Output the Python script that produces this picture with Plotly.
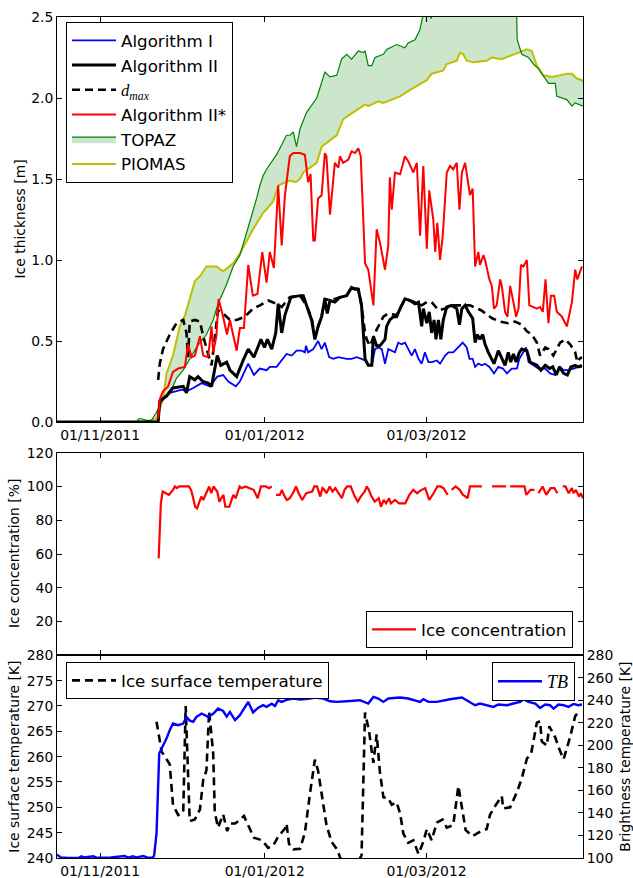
import pandas as pd
import plotly.graph_objects as go

BASE = pd.Timestamp("2011-10-16")
X_START, X_END = "2011-10-16", "2012-04-28"
TICK_DATES = ["2011-11-01", "2012-01-01", "2012-03-01"]
TICK_LABELS = ["01/11/2011", "01/01/2012", "01/03/2012"]

# (day since 2011-10-16, value)
ALG1 = [(0, 0.0), (37.5, 0.0), (38.1, 0.12), (40.6, 0.16), (41.8, 0.18), (44.3, 0.19), (46.2, 0.20), (48.0, 0.19),
        (50.5, 0.21), (53.6, 0.24), (56.7, 0.22), (59.4, 0.28), (61.6, 0.29), (63.5, 0.25), (66.3, 0.22), (67.8, 0.25),
        (70.9, 0.36), (73.0, 0.29), (75.2, 0.33), (77.7, 0.32), (78.9, 0.34), (81.4, 0.34), (83.3, 0.38), (85.1, 0.42),
        (87.0, 0.41), (88.8, 0.44), (90.7, 0.44), (91.9, 0.43), (92.3, 0.47), (93.1, 0.43), (95.0, 0.45), (96.8, 0.50),
        (98.1, 0.45), (99.3, 0.49), (100.9, 0.40), (102.4, 0.39), (104.3, 0.40), (107.4, 0.39), (109.2, 0.39),
        (111.1, 0.40), (112.9, 0.39), (114.2, 0.38), (115.4, 0.35), (116.7, 0.35), (117.9, 0.45), (119.1, 0.46),
        (120.4, 0.45), (121.6, 0.36), (122.8, 0.45), (124.1, 0.44), (125.3, 0.43), (126.5, 0.49), (127.8, 0.48),
        (129.0, 0.49), (130.2, 0.45), (131.5, 0.41), (132.7, 0.45), (134.0, 0.39), (135.2, 0.36), (136.4, 0.43),
        (137.7, 0.37), (139.0, 0.37), (140.8, 0.38), (142.0, 0.36), (143.9, 0.41), (145.1, 0.43), (146.9, 0.43),
        (148.8, 0.46), (150.4, 0.49), (151.9, 0.46), (152.9, 0.39), (154.1, 0.39), (155.0, 0.34), (156.2, 0.36),
        (157.5, 0.35), (158.7, 0.36), (160.3, 0.34), (162.0, 0.30), (163.6, 0.34), (165.3, 0.33), (166.8, 0.30),
        (168.6, 0.33), (170.5, 0.33), (171.4, 0.39), (172.7, 0.43), (173.9, 0.46), (174.8, 0.37), (178.5, 0.33),
        (181.0, 0.33), (182.8, 0.30), (184.7, 0.29), (186.5, 0.34), (187.8, 0.32), (189.6, 0.32), (191.5, 0.33),
        (193.3, 0.34), (194.6, 0.34)]

ALG2 = [(0, 0.0), (37.5, 0.0), (38.1, 0.13), (40.6, 0.16), (43.0, 0.21), (46.8, 0.22), (48.0, 0.18), (49.2, 0.28),
        (51.1, 0.26), (52.3, 0.28), (54.1, 0.25), (56.0, 0.24), (57.3, 0.22), (59.4, 0.41), (60.7, 0.35), (62.9, 0.37),
        (64.1, 0.32), (66.6, 0.28), (69.0, 0.38), (70.9, 0.45), (73.0, 0.40), (75.6, 0.51), (76.9, 0.46), (78.0, 0.51),
        (79.6, 0.45), (81.1, 0.55), (82.0, 0.73), (83.3, 0.55), (84.5, 0.66), (86.7, 0.77), (90.1, 0.78), (91.3, 0.78),
        (92.5, 0.72), (93.1, 0.69), (94.4, 0.63), (95.6, 0.51), (96.8, 0.59), (98.1, 0.65), (99.3, 0.76), (100.2, 0.67),
        (101.2, 0.75), (103.0, 0.74), (104.9, 0.77), (107.4, 0.78), (109.2, 0.83), (110.5, 0.82), (111.7, 0.82),
        (112.9, 0.72), (114.2, 0.39), (115.4, 0.35), (116.7, 0.35), (117.3, 0.53), (118.5, 0.47), (119.7, 0.47),
        (121.6, 0.51), (122.2, 0.59), (123.4, 0.63), (124.7, 0.65), (125.9, 0.65), (127.2, 0.70), (129.0, 0.76),
        (130.9, 0.75), (132.7, 0.73), (134.0, 0.74), (135.2, 0.59), (135.8, 0.70), (137.1, 0.61), (138.0, 0.68),
        (138.9, 0.55), (139.8, 0.63), (140.5, 0.51), (141.4, 0.63), (142.3, 0.51), (143.2, 0.63), (144.5, 0.71),
        (146.3, 0.72), (148.2, 0.70), (149.2, 0.60), (150.1, 0.70), (151.3, 0.72), (152.5, 0.68), (154.1, 0.64),
        (155.0, 0.49), (155.8, 0.54), (156.8, 0.51), (157.8, 0.54), (158.7, 0.48), (159.9, 0.43), (161.2, 0.39),
        (162.0, 0.36), (163.6, 0.44), (164.9, 0.39), (166.1, 0.35), (167.3, 0.43), (168.2, 0.37), (169.2, 0.42),
        (170.2, 0.37), (171.4, 0.43), (172.3, 0.45), (174.2, 0.44), (175.4, 0.37), (177.9, 0.35), (179.4, 0.32),
        (181.0, 0.35), (182.6, 0.33), (183.8, 0.34), (185.1, 0.29), (186.3, 0.34), (187.8, 0.30), (189.2, 0.29),
        (190.5, 0.34), (192.1, 0.35), (193.3, 0.34), (194.6, 0.35)]

DMAX = [(37.5, 0.26), (38.1, 0.36), (39.3, 0.45), (41.8, 0.54), (44.3, 0.61), (46.8, 0.63), (48.0, 0.55), (48.6, 0.40),
        (49.2, 0.62), (51.1, 0.63), (53.0, 0.62), (54.2, 0.53), (56.0, 0.42), (57.3, 0.35), (59.7, 0.69), (61.6, 0.67),
        (64.1, 0.63), (66.6, 0.63), (69.6, 0.65), (72.7, 0.70), (75.2, 0.72), (78.3, 0.75), (81.4, 0.73), (83.3, 0.71),
        (86.3, 0.77), (90.1, 0.78), (92.5, 0.72), (94.4, 0.64), (95.6, 0.53), (96.8, 0.59), (98.1, 0.65), (99.3, 0.76),
        (101.2, 0.75), (104.9, 0.77), (107.4, 0.78), (109.2, 0.83), (111.7, 0.82), (112.9, 0.72), (114.2, 0.55),
        (114.8, 0.51), (116.0, 0.47), (118.5, 0.57), (121.0, 0.65), (122.8, 0.67), (125.9, 0.66), (129.0, 0.76),
        (132.7, 0.74), (135.2, 0.72), (137.1, 0.74), (138.9, 0.74), (141.4, 0.69), (143.9, 0.70), (146.4, 0.72),
        (149.4, 0.72), (153.1, 0.72), (157.2, 0.69), (161.3, 0.64), (164.3, 0.62), (167.3, 0.61), (169.8, 0.62),
        (172.3, 0.60), (174.2, 0.56), (176.0, 0.54), (177.9, 0.49), (179.1, 0.41), (181.0, 0.46), (182.2, 0.45),
        (184.0, 0.41), (186.5, 0.49), (188.4, 0.51), (190.2, 0.48), (192.1, 0.43), (192.9, 0.37), (193.7, 0.39),
        (194.6, 0.40)]

ALG2S = [(37.5, 0.02), (38.1, 0.14), (39.3, 0.19), (41.2, 0.22), (43.0, 0.31), (44.9, 0.33), (47.4, 0.34), (48.6, 0.48),
         (49.9, 0.40), (51.1, 0.41), (53.0, 0.53), (54.2, 0.41), (56.0, 0.40), (57.3, 0.59), (57.9, 0.43), (59.1, 0.53),
         (59.9, 0.76), (61.6, 0.65), (63.0, 0.54), (64.1, 0.63), (66.6, 0.44), (67.8, 0.58), (69.3, 0.58), (70.9, 0.97),
         (72.6, 0.78), (74.3, 0.79), (76.1, 1.05), (77.7, 0.86), (78.9, 1.05), (80.4, 0.95), (82.0, 1.46), (83.3, 1.09),
         (84.5, 1.40), (86.3, 1.64), (87.6, 1.66), (90.1, 1.66), (91.9, 1.65), (93.1, 1.48), (94.0, 1.53), (95.0, 1.12),
         (95.6, 1.12), (96.8, 1.38), (98.1, 1.40), (99.3, 1.66), (99.9, 1.64), (101.2, 1.28), (103.0, 1.60),
         (104.3, 1.57), (104.9, 1.64), (106.1, 1.60), (108.0, 1.62), (109.2, 1.67), (110.5, 1.66), (111.7, 1.69),
         (112.6, 1.64), (114.2, 0.98), (115.4, 0.94), (117.3, 0.72), (118.5, 1.19), (119.7, 1.11), (121.6, 0.94),
         (122.8, 1.09), (123.4, 1.51), (124.1, 1.31), (125.3, 1.54), (127.2, 1.53), (129.0, 1.64), (130.2, 1.61),
         (132.1, 1.54), (133.4, 1.60), (134.6, 1.15), (135.8, 1.58), (137.1, 1.07), (138.0, 1.43), (139.5, 1.25),
         (140.2, 1.05), (141.0, 1.23), (142.0, 1.00), (143.0, 1.15), (144.5, 1.54), (145.7, 1.58), (146.9, 1.56),
         (148.2, 1.60), (149.2, 1.31), (150.1, 1.54), (151.3, 1.60), (153.1, 1.40), (154.1, 1.44), (155.0, 0.96),
         (156.2, 1.05), (156.8, 0.97), (158.1, 1.03), (158.7, 1.00), (160.3, 0.88), (161.2, 0.84), (162.0, 0.70),
         (163.0, 0.72), (164.3, 0.88), (164.9, 0.84), (166.1, 0.68), (167.0, 0.65), (168.0, 0.84), (169.2, 0.74),
         (170.2, 0.65), (171.1, 0.70), (172.0, 0.97), (172.9, 0.96), (174.2, 1.00), (175.1, 0.72), (176.6, 0.71),
         (177.9, 0.70), (179.1, 0.71), (180.1, 0.68), (181.1, 0.88), (182.2, 0.61), (183.1, 0.78), (184.3, 0.78),
         (185.3, 0.68), (187.2, 0.65), (189.0, 0.59), (190.9, 0.74), (192.1, 0.94), (192.9, 0.88), (194.6, 0.96)]

TOPAZ = [(0, 0.0), (29.5, 0.0), (30.3, 0.02), (31.3, 0.02), (33.2, 0.01), (35.0, 0.01), (36.9, 0.06), (39.3, 0.14),
         (43.0, 0.22), (44.3, 0.27), (46.8, 0.32), (51.7, 0.46), (55.4, 0.54), (57.9, 0.63), (59.7, 0.73), (62.9, 0.85),
         (65.3, 0.96), (67.8, 1.03), (70.3, 1.17), (72.1, 1.27), (74.0, 1.38), (75.2, 1.46), (76.4, 1.52), (77.7, 1.56),
         (81.4, 1.65), (85.1, 1.77), (86.4, 1.77), (87.6, 1.79), (88.8, 1.70), (90.1, 1.81), (92.5, 1.91), (96.3, 2.00),
         (99.3, 2.16), (101.2, 2.13), (103.7, 2.14), (105.5, 2.24), (107.4, 2.27), (109.2, 2.24), (111.7, 2.29),
         (113.5, 2.28), (114.2, 2.29), (115.4, 2.20), (116.7, 2.20), (117.9, 2.25), (121.0, 2.27), (122.2, 2.30),
         (125.9, 2.33), (129.0, 2.31), (130.2, 2.34), (132.7, 2.36), (134.5, 2.42), (135.8, 2.52), (137.5, 2.56),
         (138.6, 2.49), (139.5, 2.55), (142.0, 2.62), (150.0, 2.70), (160.0, 2.72), (168.0, 2.65), (170.3, 2.60),
         (170.6, 2.36), (172.3, 2.27), (174.8, 2.25), (176.6, 2.21), (178.5, 2.18), (181.0, 2.12), (182.2, 2.09),
         (184.7, 2.09), (185.3, 2.01), (189.0, 1.99), (190.9, 1.95), (192.1, 1.97), (193.9, 1.96), (195.0, 1.95)]

PIOMAS = [(0, 0.0), (33.3, 0.0), (36.9, 0.02), (39.3, 0.14), (40.6, 0.30), (43.0, 0.41), (45.5, 0.59), (47.5, 0.66),
          (51.1, 0.87), (53.0, 0.90), (55.4, 0.96), (59.1, 0.96), (61.6, 0.93), (65.3, 0.98), (67.8, 1.04), (72.7, 1.19),
          (76.4, 1.29), (80.1, 1.36), (82.0, 1.46), (86.3, 1.49), (88.5, 1.48), (90.1, 1.50), (91.3, 1.54), (96.3, 1.60),
          (98.1, 1.70), (103.7, 1.77), (106.1, 1.87), (114.2, 1.96), (115.4, 1.95), (119.1, 1.98), (121.0, 1.97),
          (127.2, 2.01), (130.9, 2.05), (137.1, 2.11), (138.9, 2.15), (143.2, 2.17), (144.5, 2.21), (148.2, 2.23),
          (149.4, 2.28), (150.6, 2.27), (151.9, 2.23), (154.4, 2.22), (159.3, 2.23), (161.2, 2.25), (164.9, 2.24),
          (169.2, 2.27), (174.2, 2.30), (176.0, 2.29), (177.9, 2.20), (180.3, 2.14), (183.5, 2.13), (189.0, 2.15),
          (190.9, 2.15), (192.7, 2.12), (194.6, 2.11), (195.0, 2.10)]

CONC = [(37.7, 57.5), (38.5, 90), (39.2, 97), (40.7, 96), (41.5, 95), (43.0, 98), (43.7, 100), (44.5, 99), (45.2, 100),
        (48.9, 100), (49.7, 98), (50.5, 93), (51.2, 88), (51.9, 87), (52.7, 91), (53.5, 94), (54.2, 92), (55.0, 95),
        (56.4, 100), (57.2, 96), (58.0, 100), (59.4, 97), (60.2, 91), (60.9, 93), (61.7, 95), (62.4, 88), (63.9, 88),
        (64.7, 92), (65.4, 95), (66.2, 93), (66.9, 97), (67.7, 100), (68.4, 99), (69.9, 100), (71.4, 99), (72.9, 98),
        (74.4, 93), (75.6, 100), (76.7, 100), (77.4, 100), (78.6, 99), (79.6, 100), (80.4, None), (81.2, 95), (82.6, 95),
        (83.4, 98), (84.1, 95), (85.2, 92), (86.3, 93), (87.8, 97), (88.6, 100), (89.6, 96), (90.9, 92), (92.4, 96),
        (93.9, 97), (94.6, 97), (95.4, 100), (96.4, 100), (97.6, 94), (98.4, 99), (99.1, 98), (99.9, 96), (101.1, 100),
        (102.1, 97), (103.2, 99), (104.3, 96), (105.6, 93), (106.6, 98), (107.6, 100), (108.9, 100), (110.4, 94),
        (111.5, 91), (112.6, 94), (114.1, 97), (114.8, 100), (115.6, 98), (116.6, 94), (117.8, 91), (119.3, 93),
        (120.1, 88), (121.1, 92), (122.0, 90), (123.1, 93), (123.8, 90), (125.3, 92), (126.8, 90), (129.1, 90),
        (130.6, 95), (132.1, 98), (133.5, 96), (135.1, 98), (136.5, 99), (138.0, 92), (139.6, 96), (141.0, 100),
        (142.1, 100), (143.3, 99), (144.8, 95), (145.5, None), (146.3, 98), (147.8, 100), (149.3, 98), (150.5, 95),
        (151.5, 94), (152.2, 93), (153.1, 100), (157.5, 100), (158.5, None), (161.3, 100), (166.5, 100), (167.2, None),
        (168.0, 100), (173.3, 100), (174.0, 95), (175.5, 98), (177.0, 98), (177.7, None), (178.5, 96), (180.0, 100),
        (181.4, 95), (183.0, 99), (184.4, 99), (185.5, 96), (186.5, None), (187.5, 100), (188.5, 100), (189.7, 96),
        (190.9, 99), (191.5, 96), (192.4, 98), (193.5, 94), (194.2, 96), (195.0, 93)]

TSURF = [(36.9, 266.9), (38.8, 261.0), (41.8, 258.5), (43.0, 250.5), (44.9, 248.5), (46.8, 249.0), (47.7, 270.0),
         (48.6, 254.0), (49.2, 247.3), (51.1, 247.6), (53.0, 249.6), (54.2, 255.4), (55.4, 257.3), (56.4, 269.0),
         (57.3, 263.0), (57.9, 260.6), (58.5, 249.0), (59.7, 246.0), (61.6, 248.6), (63.1, 245.3), (64.1, 246.8),
         (66.0, 246.8), (67.8, 247.5), (69.3, 248.3), (71.1, 246.2), (73.0, 244.0), (76.0, 243.5), (78.3, 242.0),
         (80.1, 242.4), (82.0, 244.2), (84.5, 245.8), (85.1, 246.8), (86.0, 242.8), (87.6, 241.7), (90.1, 241.8),
         (91.9, 245.0), (93.8, 252.8), (95.6, 259.4), (96.8, 257.2), (98.1, 252.4), (99.9, 246.5), (101.8, 243.2),
         (103.7, 241.8), (104.9, 240.2), (106.7, 238.0), (109.3, 237.0), (112.3, 239.7), (112.9, 240.5), (114.2, 268.7),
         (115.7, 265.0), (116.7, 261.0), (117.3, 258.8), (118.5, 264.4), (119.7, 257.0), (121.0, 252.0), (122.8, 251.8),
         (124.1, 250.5), (125.9, 251.0), (127.2, 248.8), (128.4, 244.8), (130.2, 243.0), (132.1, 243.5), (134.0, 240.8),
         (135.8, 243.2), (137.1, 245.7), (138.9, 243.5), (140.8, 247.0), (142.9, 247.6), (144.5, 246.0), (146.9, 246.5),
         (148.8, 254.2), (150.1, 249.7), (151.5, 245.5), (154.0, 244.3), (157.2, 245.3), (159.3, 245.7), (160.5, 248.5),
         (162.2, 250.1), (164.9, 252.2), (165.4, 249.8), (168.0, 250.0), (170.5, 253.0), (172.3, 255.7), (174.2, 259.6),
         (175.8, 260.7), (177.9, 266.7), (179.1, 267.0), (179.7, 263.0), (181.6, 262.2), (182.5, 266.0), (184.7, 263.8),
         (186.5, 261.1), (187.8, 259.5), (190.2, 263.8), (192.1, 268.0), (193.3, 268.8)]

TB = [(0, 103.0), (1.5, 100.5), (4.0, 100.0), (8.0, 100.0), (9.0, 101.5), (10.0, 100.5), (13.5, 101.5), (14.5, 100.3),
      (20.0, 100.5), (25.0, 101.8), (26.5, 100.3), (28.0, 101.5), (29.5, 100.5), (32.0, 101.8), (33.5, 100.3),
      (35.5, 100.5), (36.0, 102.0), (36.9, 122.0), (37.9, 193.0), (38.8, 197.0), (39.3, 200.0), (40.6, 206.0),
      (41.8, 213.5), (43.0, 219.4), (44.9, 218.0), (46.8, 219.4), (48.0, 225.3), (49.2, 222.0), (50.5, 221.0),
      (51.7, 225.3), (53.6, 228.3), (56.0, 225.3), (57.9, 228.0), (59.7, 232.7), (61.6, 230.5), (62.9, 225.5),
      (64.1, 229.7), (66.0, 222.4), (67.8, 226.8), (69.6, 234.0), (70.9, 238.6), (72.7, 229.3), (74.6, 233.5),
      (76.4, 235.7), (77.7, 234.2), (79.6, 237.0), (80.8, 235.0), (82.0, 240.0), (83.3, 238.6), (85.1, 240.5),
      (87.6, 241.6), (90.1, 240.7), (93.1, 241.3), (95.6, 242.5), (97.5, 242.1), (98.7, 241.6), (101.2, 239.2),
      (103.7, 238.6), (107.4, 239.2), (112.3, 240.1), (115.4, 237.2), (117.3, 243.0), (119.1, 241.6), (121.0, 238.6),
      (122.8, 241.6), (127.2, 242.5), (130.2, 241.6), (132.7, 240.1), (134.6, 238.6), (135.8, 241.0), (137.7, 238.6),
      (140.8, 238.6), (143.2, 240.1), (145.7, 241.0), (150.1, 242.5), (152.5, 239.2), (155.0, 235.7), (156.8, 237.2),
      (158.7, 236.3), (161.8, 234.2), (163.6, 236.3), (166.8, 235.7), (169.2, 237.2), (171.7, 238.6), (172.9, 241.0),
      (174.8, 238.6), (177.3, 237.2), (179.1, 233.3), (181.0, 236.3), (182.8, 235.7), (184.1, 232.7), (185.9, 236.3),
      (187.8, 235.7), (189.6, 234.2), (191.5, 236.8), (193.3, 235.7), (194.6, 236.3)]


def xy(pairs):
    days = [p[0] for p in pairs]
    vals = [p[1] for p in pairs]
    return [BASE + pd.Timedelta(days=float(d)) for d in days], vals


FONT = "DejaVu Sans"
SERIF = "Liberation Serif"
H = 841.0  # plot height in px (t=17, b=20)


def py(ypx):
    return (858.0 - ypx) / H


def px(xpx):
    return (xpx - 57.0) / 526.0


fig = go.Figure()

x, y = xy(PIOMAS)
fig.add_trace(go.Scatter(x=x, y=y, mode="lines", name="PIOMAS", line=dict(color="#bfbf00", width=2),
                         legendrank=6, xaxis="x", yaxis="y"))
x, y = xy(TOPAZ)
fig.add_trace(go.Scatter(x=x, y=y, mode="lines", name="TOPAZ", line=dict(color="#008000", width=1.2),
                         fill="tonexty", fillcolor="rgba(0,128,0,0.2)",
                         legendrank=5, xaxis="x", yaxis="y"))
x, y = xy(ALG1)
fig.add_trace(go.Scatter(x=x, y=y, mode="lines", name="Algorithm I", line=dict(color="#0000ff", width=1.8),
                         legendrank=1, xaxis="x", yaxis="y"))
x, y = xy(ALG2)
fig.add_trace(go.Scatter(x=x, y=y, mode="lines", name="Algorithm II", line=dict(color="#000000", width=3),
                         legendrank=2, xaxis="x", yaxis="y"))
x, y = xy(DMAX)
fig.add_trace(go.Scatter(x=x, y=y, mode="lines",
                         name="<span style='font-family:%s'><i>d</i><sub><i>max</i></sub></span>" % SERIF,
                         line=dict(color="#000000", width=2.6, dash="8px,5px"),
                         legendrank=3, xaxis="x", yaxis="y"))
x, y = xy(ALG2S)
fig.add_trace(go.Scatter(x=x, y=y, mode="lines", name="Algorithm II*", line=dict(color="#ff0000", width=2),
                         legendrank=4, xaxis="x", yaxis="y"))

x, y = xy(CONC)
fig.add_trace(go.Scatter(x=x, y=y, mode="lines", name="Ice concentration", connectgaps=False,
                         line=dict(color="#ff0000", width=2.2), legend="legend2", xaxis="x2", yaxis="y2"))

x, y = xy(TSURF)
fig.add_trace(go.Scatter(x=x, y=y, mode="lines", name="Ice surface temperature",
                         line=dict(color="#000000", width=2.6, dash="8px,5px"), legend="legend3",
                         xaxis="x3", yaxis="y3"))
x, y = xy(TB)
fig.add_trace(go.Scatter(x=x, y=y, mode="lines", name="<i>TB</i>",
                         line=dict(color="#0000ff", width=2.4), legend="legend4", xaxis="x3", yaxis="y4"))

TICKFONT = dict(family=FONT, size=13.9, color="black")
common = dict(showline=True, linecolor="black", linewidth=1, ticks="inside", ticklen=5, tickcolor="black",
              showgrid=False, zeroline=False, tickfont=TICKFONT, automargin=False)
xcommon = dict(common, type="date", range=[X_START, X_END], tickvals=TICK_DATES, ticktext=TICK_LABELS,
               mirror="ticks", domain=[0, 1])

D_TOP = [py(422), 1.0]
D_MID = [py(655.3), py(452.7)]
D_BOT = [0.0, py(655.3)]

LEG_FONT = dict(family=FONT, size=16.7, color="black")
legend_common = dict(bgcolor="white", bordercolor="black", borderwidth=1, font=LEG_FONT, itemwidth=44)

fig.update_layout(
    width=633, height=878,
    margin=dict(l=57, r=50, t=17, b=20, autoexpand=False),
    paper_bgcolor="white", plot_bgcolor="white",
    font=dict(family=FONT, size=13.9, color="black"),
    xaxis=dict(xcommon, anchor="y"),
    xaxis2=dict(xcommon, anchor="y2", showticklabels=False),
    xaxis3=dict(xcommon, anchor="y3"),
    yaxis=dict(common, domain=D_TOP, range=[0, 2.5], anchor="x", mirror="ticks",
               tickvals=[0, 0.5, 1.0, 1.5, 2.0, 2.5], ticktext=["0.0", "0.5", "1.0", "1.5", "2.0", "2.5"]),
    yaxis2=dict(common, domain=D_MID, range=[0, 120], anchor="x2", mirror="ticks",
                tickvals=[20, 40, 60, 80, 100, 120]),
    yaxis3=dict(common, domain=D_BOT, range=[240, 280], anchor="x3",
                tickvals=[240, 245, 250, 255, 260, 265, 270, 275, 280]),
    yaxis4=dict(common, range=[100, 280], anchor="x3", overlaying="y3", side="right",
                tickvals=[100, 120, 140, 160, 180, 200, 220, 240, 260, 280]),
    legend=dict(legend_common, x=px(66), y=py(22), xanchor="left", yanchor="top", traceorder="normal"),
    legend2=dict(legend_common, x=px(573), y=py(648), xanchor="right", yanchor="bottom"),
    legend3=dict(legend_common, x=px(66), y=py(662), xanchor="left", yanchor="top"),
    legend4=dict(legend_common, x=px(575), y=py(662), xanchor="right", yanchor="top",
                 font=dict(family=SERIF, size=18, color="black")),
    showlegend=True,
)

titles = [
    ("Ice thickness [m]", 19, (17 + 422) / 2),
    ("Ice concentration [%]", 14, (452.7 + 655.3) / 2),
    ("Ice surface temperature [K]", 14, (655.3 + 858) / 2),
    ("Brightness temperature [K]", 625, (655.3 + 858) / 2),
]
for text, xp, yp in titles:
    fig.add_annotation(text=text, xref="paper", yref="paper", x=px(xp), y=py(yp), textangle=-90,
                       showarrow=False, xanchor="center", yanchor="middle",
                       font=dict(family=FONT, size=13.9, color="black"))

fig.write_html("out.html")
